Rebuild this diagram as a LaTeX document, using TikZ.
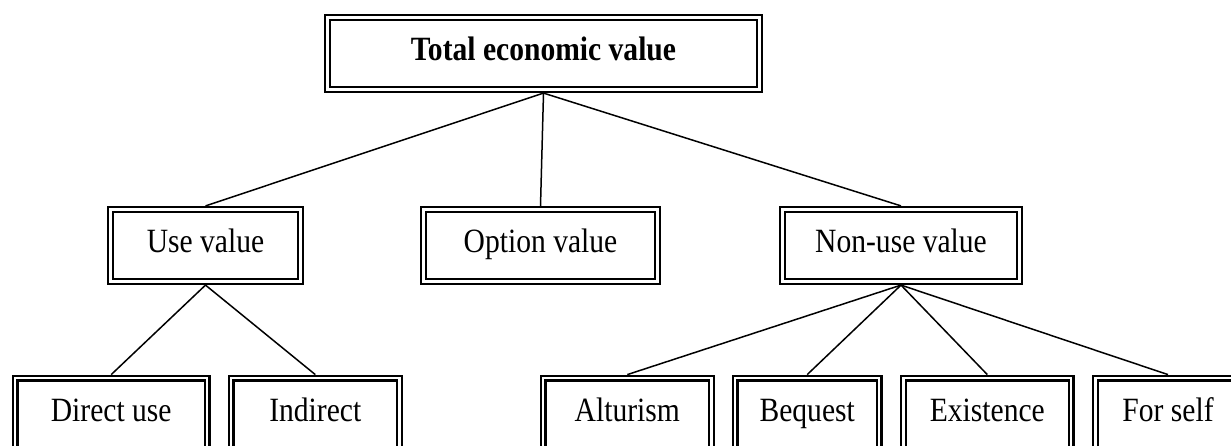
\documentclass[tikz,border=0pt]{standalone}
\usepackage{fontspec}
\setmainfont{Liberation Serif}[FakeStretch=0.87]
\begin{document}
\begin{tikzpicture}[x=1pt,y=-1pt,
  vbox/.style={draw=black, double=white, line width=2.4pt, double distance=2.4pt,
    rectangle, inner sep=0pt, outer sep=3.6pt, minimum height=72pt,
    text height=20pt, text depth=6pt,
    font=\fontsize{34}{40}\selectfont},
  conn/.style={draw=black, line width=1.5pt}]
\useasboundingbox (0,0) rectangle (1231,446);
\clip (0,0) rectangle (1231,446);
% top
\node[vbox, minimum width=432pt, font=\fontsize{34}{40}\selectfont\bfseries] (tev) at (543.5,53.5) {Total economic value};
% middle row
\node[vbox, minimum width=190pt] (use) at (205.5,245.5) {Use value};
\node[vbox, minimum width=234pt] (opt) at (540.5,245.5) {Option value};
\node[vbox, minimum width=237pt] (non) at (901,245.5) {Non-use value};
% bottom row
\node[vbox, minimum width=192pt] (dir) at (111.2,414.2) {Direct use};
\node[vbox, minimum width=168.3pt] (ind) at (315.3,414.2) {Indirect};
\node[vbox, minimum width=168.3pt] (alt) at (627.3,414.2) {Alturism};
\node[vbox, minimum width=144pt] (beq) at (807.2,414.2) {Bequest};
\node[vbox, minimum width=167.7pt] (exi) at (987.3,414.2) {Existence};
\node[vbox, minimum width=145pt] (slf) at (1168,414.2) {For self};
% connectors
\draw[conn] (tev.south) -- (use.north);
\draw[conn] (tev.south) -- (opt.north);
\draw[conn] (tev.south) -- (non.north);
\draw[conn] (use.south) -- (dir.north);
\draw[conn] (use.south) -- (ind.north);
\draw[conn] (non.south) -- (alt.north);
\draw[conn] (non.south) -- (beq.north);
\draw[conn] (non.south) -- (exi.north);
\draw[conn] (non.south) -- (slf.north);
\end{tikzpicture}
\end{document}
